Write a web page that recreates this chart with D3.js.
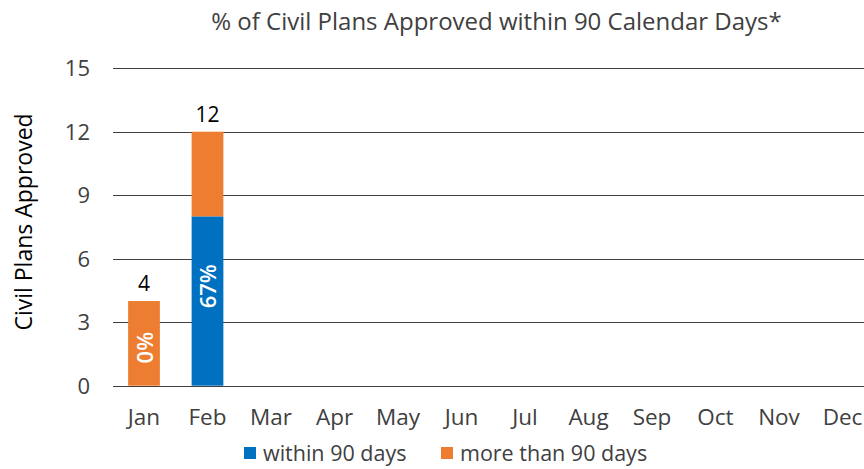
<!DOCTYPE html>
<html><head><meta charset="utf-8">
<script src="https://cdn.jsdelivr.net/npm/d3@7"></script>
<style>body{margin:0;background:#fff;} svg{display:block;}</style>
</head><body>
<svg id="c" width="864" height="469"></svg>
<script>
const months = ["Jan","Feb","Mar","Apr","May","Jun","Jul","Aug","Sep","Oct","Nov","Dec"];
const within = [0, 8, null, null, null, null, null, null, null, null, null, null];
const moreThan = [4, 4, null, null, null, null, null, null, null, null, null, null];
const pctLabels = ["0%", "67%", null, null, null, null, null, null, null, null, null, null];
const pctLabelValue = [1.8, 4.7, null, null, null, null, null, null, null, null, null, null];
const yTicks = [0, 3, 6, 9, 12, 15];
const seriesNames = ["within 90 days", "more than 90 days"];
const colors = ["#0070C0", "#ED7D31"];
const title = "% of Civil Plans Approved within 90 Calendar Days*";
const yTitle = "Civil Plans Approved";

const FONT = "'Open Sans', sans-serif";
const svg = d3.select("#c");
const W = 864, H = 469;
const x = d3.scaleBand().domain(months).range([112.25, 874.25]).paddingInner(0.5).paddingOuter(0.25);
const y = d3.scaleLinear().domain([0, 15]).range([385.7, 68.2]);

// gridlines
svg.append("g").selectAll("line").data(yTicks).join("line")
  .attr("x1", 113).attr("x2", W)
  .attr("y1", d => Math.round(y(d)) + 0.5).attr("y2", d => Math.round(y(d)) + 0.5)
  .attr("stroke", "#3f3f3f").attr("stroke-width", 1);

// y axis labels
const yAxis = d3.axisLeft(y).tickValues(yTicks).tickSize(0).tickPadding(0);
const ya = svg.append("g").attr("transform", "translate(90,0)").call(yAxis);
ya.select(".domain").remove();
ya.selectAll("text").attr("font-family", FONT).attr("font-size", 22).attr("fill", "#404040").attr("dy", "0.35em");

// x axis labels
const xAxis = d3.axisBottom(x).tickSize(0).tickPadding(0);
const xa = svg.append("g").attr("transform", "translate(0,417)").call(xAxis);
xa.select(".domain").remove();
xa.selectAll("text").attr("font-family", FONT).attr("font-size", 22.5).attr("fill", "#404040").attr("dy", "0.35em");

// stacked bars
const rows = months.map((m, i) => ({month: m, within: within[i] || 0, more: moreThan[i] || 0}));
const stack = d3.stack().keys(["within", "more"])(rows);
svg.append("g").selectAll("g").data(stack).join("g")
  .attr("fill", (d, i) => colors[i])
  .selectAll("rect").data(d => d.filter(s => s[1] - s[0] > 0)).join("rect")
  .attr("x", d => x(d.data.month))
  .attr("width", x.bandwidth())
  .attr("y", d => y(d[1]))
  .attr("height", d => y(d[0]) - y(d[1]));

// totals
svg.append("g").selectAll("text").data(rows.filter(r => r.within + r.more > 0)).join("text")
  .attr("x", d => x(d.month) + x.bandwidth() / 2)
  .attr("y", d => y(d.within + d.more) - 10)
  .attr("text-anchor", "middle")
  .attr("font-family", FONT).attr("font-size", 21).attr("fill", "#000")
  .text(d => d.within + d.more);

// percentage labels (rotated)
svg.append("g").selectAll("text").data(months.map((m, i) => ({m, t: pctLabels[i], v: pctLabelValue[i]})).filter(d => d.t)).join("text")
  .attr("transform", d => `translate(${x(d.m) + x.bandwidth() / 2 + 1},${y(d.v)}) rotate(-90)`)
  .attr("text-anchor", "middle").attr("dy", "0.35em")
  .attr("font-family", FONT).attr("font-size", 22).attr("font-weight", 600).attr("fill", "#fff")
  .text(d => d.t);

// title
svg.append("text").attr("x", 496.5).attr("y", 30).attr("text-anchor", "middle")
  .attr("font-family", FONT).attr("font-size", 24).attr("fill", "#404040").text(title);

// y title
svg.append("text").attr("transform", "translate(24,222) rotate(-90)").attr("dy", "0.35em").attr("text-anchor", "middle")
  .attr("font-family", FONT).attr("font-size", 23).attr("fill", "#000").text(yTitle);

// legend
const legX = [244, 441];
const leg = svg.append("g").selectAll("g").data(seriesNames).join("g")
  .attr("transform", (d, i) => `translate(${legX[i]},453)`);
leg.append("rect").attr("x", 0).attr("y", -6).attr("width", 12).attr("height", 12).attr("fill", (d, i) => colors[i]);
leg.append("text").attr("x", 19).attr("dy", "0.35em").attr("font-family", FONT).attr("font-size", 21.5).attr("fill", "#404040").text(d => d);
</script>
</body></html>
